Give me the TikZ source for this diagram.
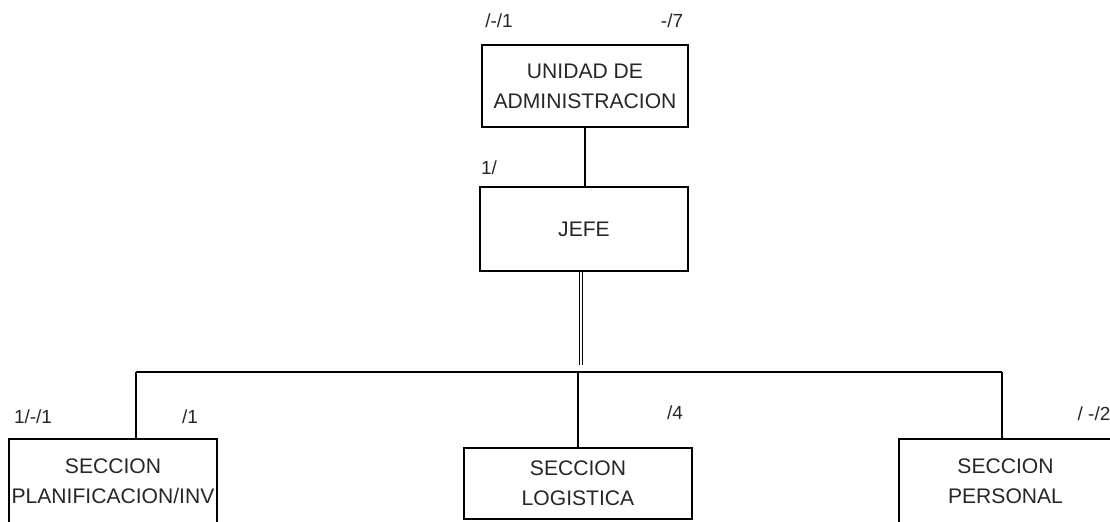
\documentclass[tikz,border=0pt]{standalone}
\usepackage{fontspec}
\setmainfont{Liberation Sans}

\begin{document}
\begin{tikzpicture}[x=0.025cm, y=-0.025cm]
\tikzset{caja/.style={draw, line width=0.8pt, inner sep=0pt, align=center, font=\fontsize{15}{21.5}\selectfont, text=black!85},
  etiq/.style={inner sep=0pt, font=\fontsize{13.5}{15}\selectfont, text=black!85}}
\clip (0, 0) rectangle (1110, 521);
\node[caja, minimum width=206*0.025cm, minimum height=82*0.025cm] (uni) at (585, 86) {UNIDAD DE\\ADMINISTRACION};
\node[caja, minimum width=208*0.025cm, minimum height=84*0.025cm] (jefe) at (584, 229) {JEFE};
\node[caja, minimum width=208*0.025cm, minimum height=84*0.025cm] (pla) at (113, 481) {SECCION\\PLANIFICACION/INV};
\node[caja, minimum width=228*0.025cm, minimum height=71*0.025cm] (log) at (578, 483.5) {SECCION\\LOGISTICA};
\node[caja, minimum width=213*0.025cm, minimum height=84*0.025cm] (per) at (1005.5, 481) {SECCION\\PERSONAL};
\node[etiq] (eUniA) at (499, 21) {/-/1};
\node[etiq] (eUniB) at (672, 21) {-/7};
\node[etiq] (eJefe) at (489, 168) {1/};
\node[etiq] (ePlaA) at (33, 417) {1/-/1};
\node[etiq] (ePlaB) at (190, 417) {/1};
\node[etiq] (eLog) at (675, 413) {/4};
\node[etiq] (ePer) at (1094, 414) {/ -/2};
\coordinate (bajo) at (581, 365);
\coordinate (izq) at (136, 372);
\coordinate (der) at (1002, 372);
\draw[line width=0.8pt] (uni.south) -- (uni.south |- jefe.north);
\draw[line width=0.8pt, double, double distance=1.4pt] (bajo |- jefe.south) -- (bajo);
\draw[line width=1.8pt] (izq) -- (der);
\draw[line width=0.8pt] (izq) -- (izq |- pla.north);
\draw[line width=0.8pt] (log.north |- izq) -- (log.north);
\draw[line width=0.8pt] (der) -- (der |- per.north);
\end{tikzpicture}
\end{document}
